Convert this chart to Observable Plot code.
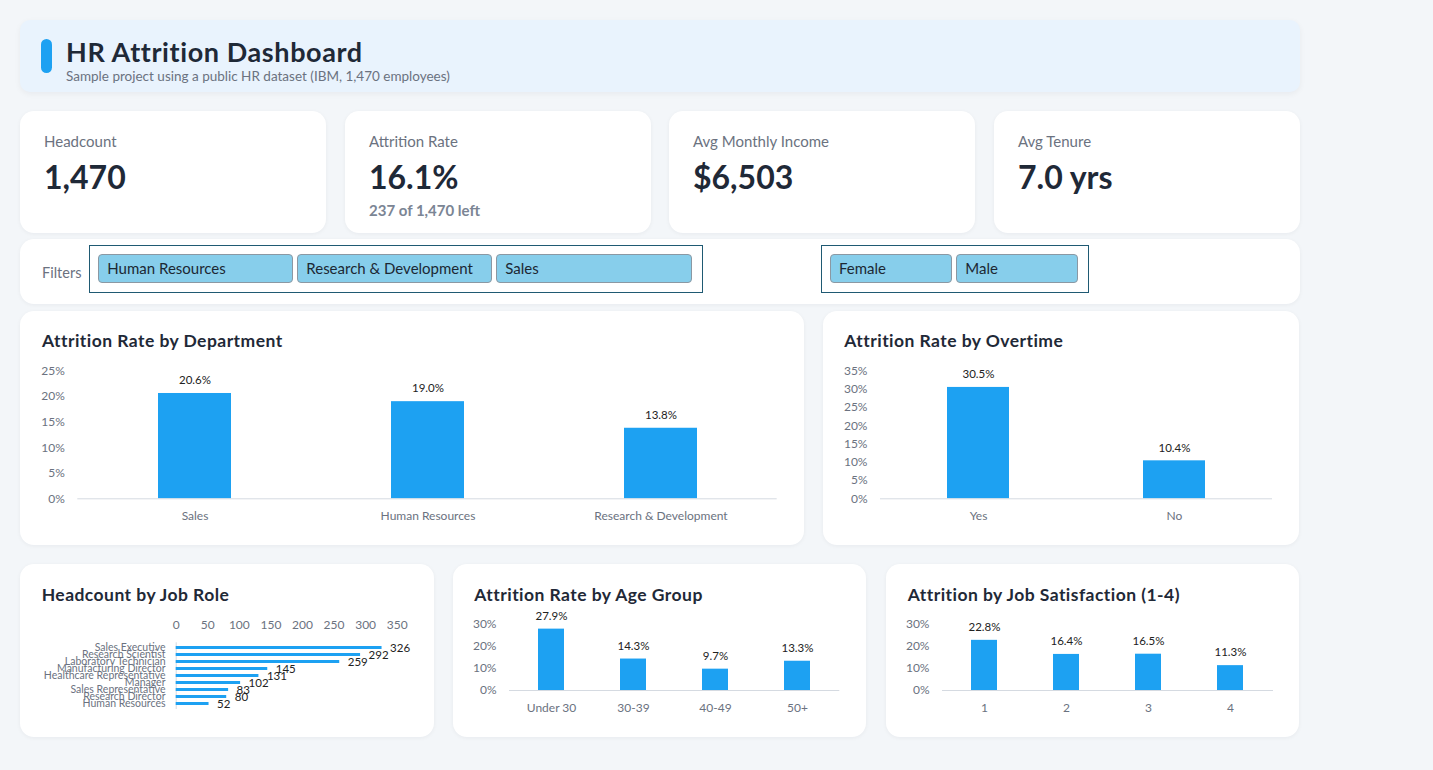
<!DOCTYPE html>
<html>
<head>
<meta charset="utf-8">
<title>HR Attrition Dashboard</title>
<script src="https://cdn.jsdelivr.net/npm/d3@7"></script>
<script src="https://cdn.jsdelivr.net/npm/@observablehq/plot@0.6"></script>
<style>
  html, body { margin: 0; padding: 0; }
  body {
    width: 1433px; height: 770px; position: relative; overflow: hidden;
    background: #f3f6f9;
    font-family: Lato, "Noto Sans", sans-serif;
  }
  .abs { position: absolute; white-space: nowrap; line-height: 1; }
  .card { position: absolute; background: #ffffff; border-radius: 14px; box-shadow: 0 1px 4px rgba(15, 23, 42, 0.05); }
  .header { position: absolute; background: #e9f3fd; border-radius: 10px; box-shadow: 0 2px 6px rgba(15, 23, 42, 0.05); }
  .pill { position: absolute; background: #1da1f2; border-radius: 6px; }
  .title { font-size: 27px; font-weight: 700; color: #1f2937; letter-spacing: 0.6px; }
  .subtitle { font-size: 13.5px; color: #6b7280; }
  .kpi-label { font-size: 15px; color: #6b7280; }
  .kpi-value { font-size: 32px; font-weight: 700; color: #1f2937; }
  .kpi-sub { font-size: 15px; font-weight: 700; color: #7b8594; }
  .card-title { font-size: 17.5px; font-weight: 700; color: #1f2937; letter-spacing: 0.45px; }
  .filter-label { font-size: 14.5px; color: #6b7280; }
  .filter-box { position: absolute; box-sizing: border-box; border: 1px solid #1f5a73; background: #fff; }
  .chip {
    position: absolute; box-sizing: border-box; background: #87ceeb;
    border: 1px solid #8b98a3; border-radius: 4px;
    font-size: 15px; color: #1c2833; padding-left: 8px; white-space: nowrap;
  }
  .chart { position: absolute; }
</style>
</head>
<body>
<script>
// ---- Data -------------------------------------------------------------
const headcount = 1470;
const leavers = 237;
const avgMonthlyIncome = 6503;
const avgTenureYears = 7.0;

const kpiLabels = ["Headcount", "Attrition Rate", "Avg Monthly Income", "Avg Tenure"];

const departmentOptions = ["Human Resources", "Research & Development", "Sales"];
const genderOptions = ["Female", "Male"];

const departments = ["Sales", "Human Resources", "Research & Development"];
const departmentRates = [0.206, 0.190, 0.138];
const departmentTicks = [0, 0.05, 0.10, 0.15, 0.20, 0.25];

const overtimeGroups = ["Yes", "No"];
const overtimeRates = [0.305, 0.104];
const overtimeTicks = [0, 0.05, 0.10, 0.15, 0.20, 0.25, 0.30, 0.35];

const jobRoles = [
  "Sales Executive", "Research Scientist", "Laboratory Technician",
  "Manufacturing Director", "Healthcare Representative", "Manager",
  "Sales Representative", "Research Director", "Human Resources"
];
const jobRoleCounts = [326, 292, 259, 145, 131, 102, 83, 80, 52];
const jobRoleTicks = [0, 50, 100, 150, 200, 250, 300, 350];

const ageGroups = ["Under 30", "30-39", "40-49", "50+"];
const ageRates = [0.279, 0.143, 0.097, 0.133];

const satisfactionLevels = ["1", "2", "3", "4"];
const satisfactionRates = [0.228, 0.164, 0.165, 0.113];
const smallTicks = [0, 0.10, 0.20, 0.30];

// ---- Helpers ----------------------------------------------------------
const BLUE = "#1da1f2";
const pct0 = d3.format(".0%");
const pct1 = d3.format(".1%");
const body = document.body;

function box(cls, x, y, w, h, text) {
  const el = document.createElement("div");
  el.className = cls;
  Object.assign(el.style, { left: x + "px", top: y + "px" });
  if (w != null) el.style.width = w + "px";
  if (h != null) el.style.height = h + "px";
  if (text != null) el.textContent = text;
  body.appendChild(el);
  return el;
}

function label(cls, x, y, text) {
  return box("abs " + cls, x, y, null, null, text);
}

function mount(svg, x, y) {
  const wrap = box("chart", x, y);
  wrap.appendChild(svg);
}

const baseStyle = {
  fontFamily: "Lato, 'Noto Sans', sans-serif",
  fontSize: "12px",
  color: "#6b7280",
  background: "transparent",
  overflow: "visible"
};

// Vertical column chart of rates with value labels above each bar
function columnChart(cats, vals, o) {
  const rows = cats.map((c, i) => ({ cat: c, value: vals[i] }));
  return Plot.plot({
    width: o.width, height: o.height,
    marginTop: o.mt, marginRight: o.mr, marginBottom: o.mb, marginLeft: o.ml,
    style: baseStyle,
    x: { domain: cats, paddingInner: o.pad, paddingOuter: o.pad / 2, label: null, tickSize: 0, tickPadding: 13 },
    y: { domain: [0, o.ticks[o.ticks.length - 1]], ticks: o.ticks, tickFormat: pct0, label: null, tickSize: 0, tickPadding: 13 },
    marks: [
      Plot.barY(rows, { x: "cat", y: "value", fill: BLUE }),
      Plot.ruleY([0], { stroke: "#d5dae1" }),
      Plot.text(rows, { x: "cat", y: "value", text: d => pct1(d.value), dy: -13, fill: "#222222", fontSize: 11.5 })
    ]
  });
}

// ---- Header -----------------------------------------------------------
box("header", 20, 20, 1280, 72);
box("pill", 41, 39, 11, 34);
label("title", 66, 38, "HR Attrition Dashboard");
label("subtitle", 66, 70, "Sample project using a public HR dataset (IBM, 1,470 employees)");

// ---- KPI cards --------------------------------------------------------
const kpiValues = [
  d3.format(",")(headcount),
  pct1(leavers / headcount),
  d3.format("$,")(avgMonthlyIncome),
  d3.format(".1f")(avgTenureYears) + " yrs"
];
const kpiLefts = [20, 345, 669, 994];
kpiLefts.forEach((x, i) => {
  box("card", x, 111, 306, 122);
  label("kpi-label", x + 24, 134.4, kpiLabels[i]);
  label("kpi-value", x + 24, 161, kpiValues[i]);
});
label("kpi-sub", 345 + 24, 203, `${leavers} of ${d3.format(",")(headcount)} left`);

// ---- Filters ----------------------------------------------------------
box("card", 20, 239, 1280, 65);
label("filter-label", 42, 266, "Filters");
box("filter-box", 89, 245, 614, 48);
[[98.3, 195], [297.3, 195], [496.3, 196]].forEach(([x, w], i) => {
  const c = box("chip", x, 254.3, w, 28.4, departmentOptions[i]);
  c.style.lineHeight = "26.4px";
});
box("filter-box", 821, 245, 268, 48);
[[830, 122.3], [956.3, 122]].forEach(([x, w], i) => {
  const c = box("chip", x, 254.3, w, 28.4, genderOptions[i]);
  c.style.lineHeight = "26.4px";
});

// ---- Chart cards ------------------------------------------------------
box("card", 20, 311, 784, 234);
box("card", 823, 311, 476, 234);
box("card", 20, 564, 414, 173);
box("card", 453, 564, 413, 173);
box("card", 886, 564, 413, 173);

label("card-title", 42, 332, "Attrition Rate by Department");
label("card-title", 844.3, 332, "Attrition Rate by Overtime");
label("card-title", 41.7, 585.7, "Headcount by Job Role");
label("card-title", 474.3, 585.7, "Attrition Rate by Age Group");
label("card-title", 907.7, 585.7, "Attrition by Job Satisfaction (1-4)");

// Attrition by department
mount(columnChart(departments, departmentRates, {
  width: 784, height: 190, mt: 20.5, mr: 27.3, mb: 41.7, ml: 57.3, pad: 0.687, ticks: departmentTicks
}), 20, 350);

// Attrition by overtime
mount(columnChart(overtimeGroups, overtimeRates, {
  width: 476, height: 190, mt: 20.5, mr: 27, mb: 41.7, ml: 57, pad: 0.684, ticks: overtimeTicks
}), 823, 350);

// Attrition by age group
mount(columnChart(ageGroups, ageRates, {
  width: 413, height: 130, mt: 24, mr: 26.7, mb: 40, ml: 56, pad: 0.68, ticks: smallTicks
}), 453, 600);

// Attrition by job satisfaction
mount(columnChart(satisfactionLevels, satisfactionRates, {
  width: 413, height: 130, mt: 24, mr: 26, mb: 40, ml: 56, pad: 0.68, ticks: smallTicks
}), 886, 600);

// Headcount by job role (horizontal bars, axis on top)
{
  const rows = jobRoles.map((r, i) => ({ role: r, count: jobRoleCounts[i] }));
  const svg = Plot.plot({
    width: 414, height: 115,
    marginTop: 37.3, marginRight: 37.3, marginBottom: 11, marginLeft: 155.7,
    style: baseStyle,
    x: { domain: [0, 350], ticks: jobRoleTicks, axis: "top", label: null, tickSize: 0, tickPadding: 14 },
    y: { domain: jobRoles, paddingInner: 0.58, paddingOuter: 0.29, label: null, tickSize: 0, tickPadding: 10.7 },
    marks: [
      Plot.ruleX([0], { stroke: "#d5dae1" }),
      Plot.barX(rows, { x: "count", y: "role", fill: BLUE }),
      Plot.text(rows, { x: "count", y: "role", text: d => String(d.count), dx: 8, dy: 0, textAnchor: "start", fill: "#222222", fontSize: 11.5 })
    ]
  });
  d3.select(svg).selectAll('[aria-label="y-axis tick label"]').attr("font-size", 10.5);
  mount(svg, 20, 605);
}
</script>
</body>
</html>
